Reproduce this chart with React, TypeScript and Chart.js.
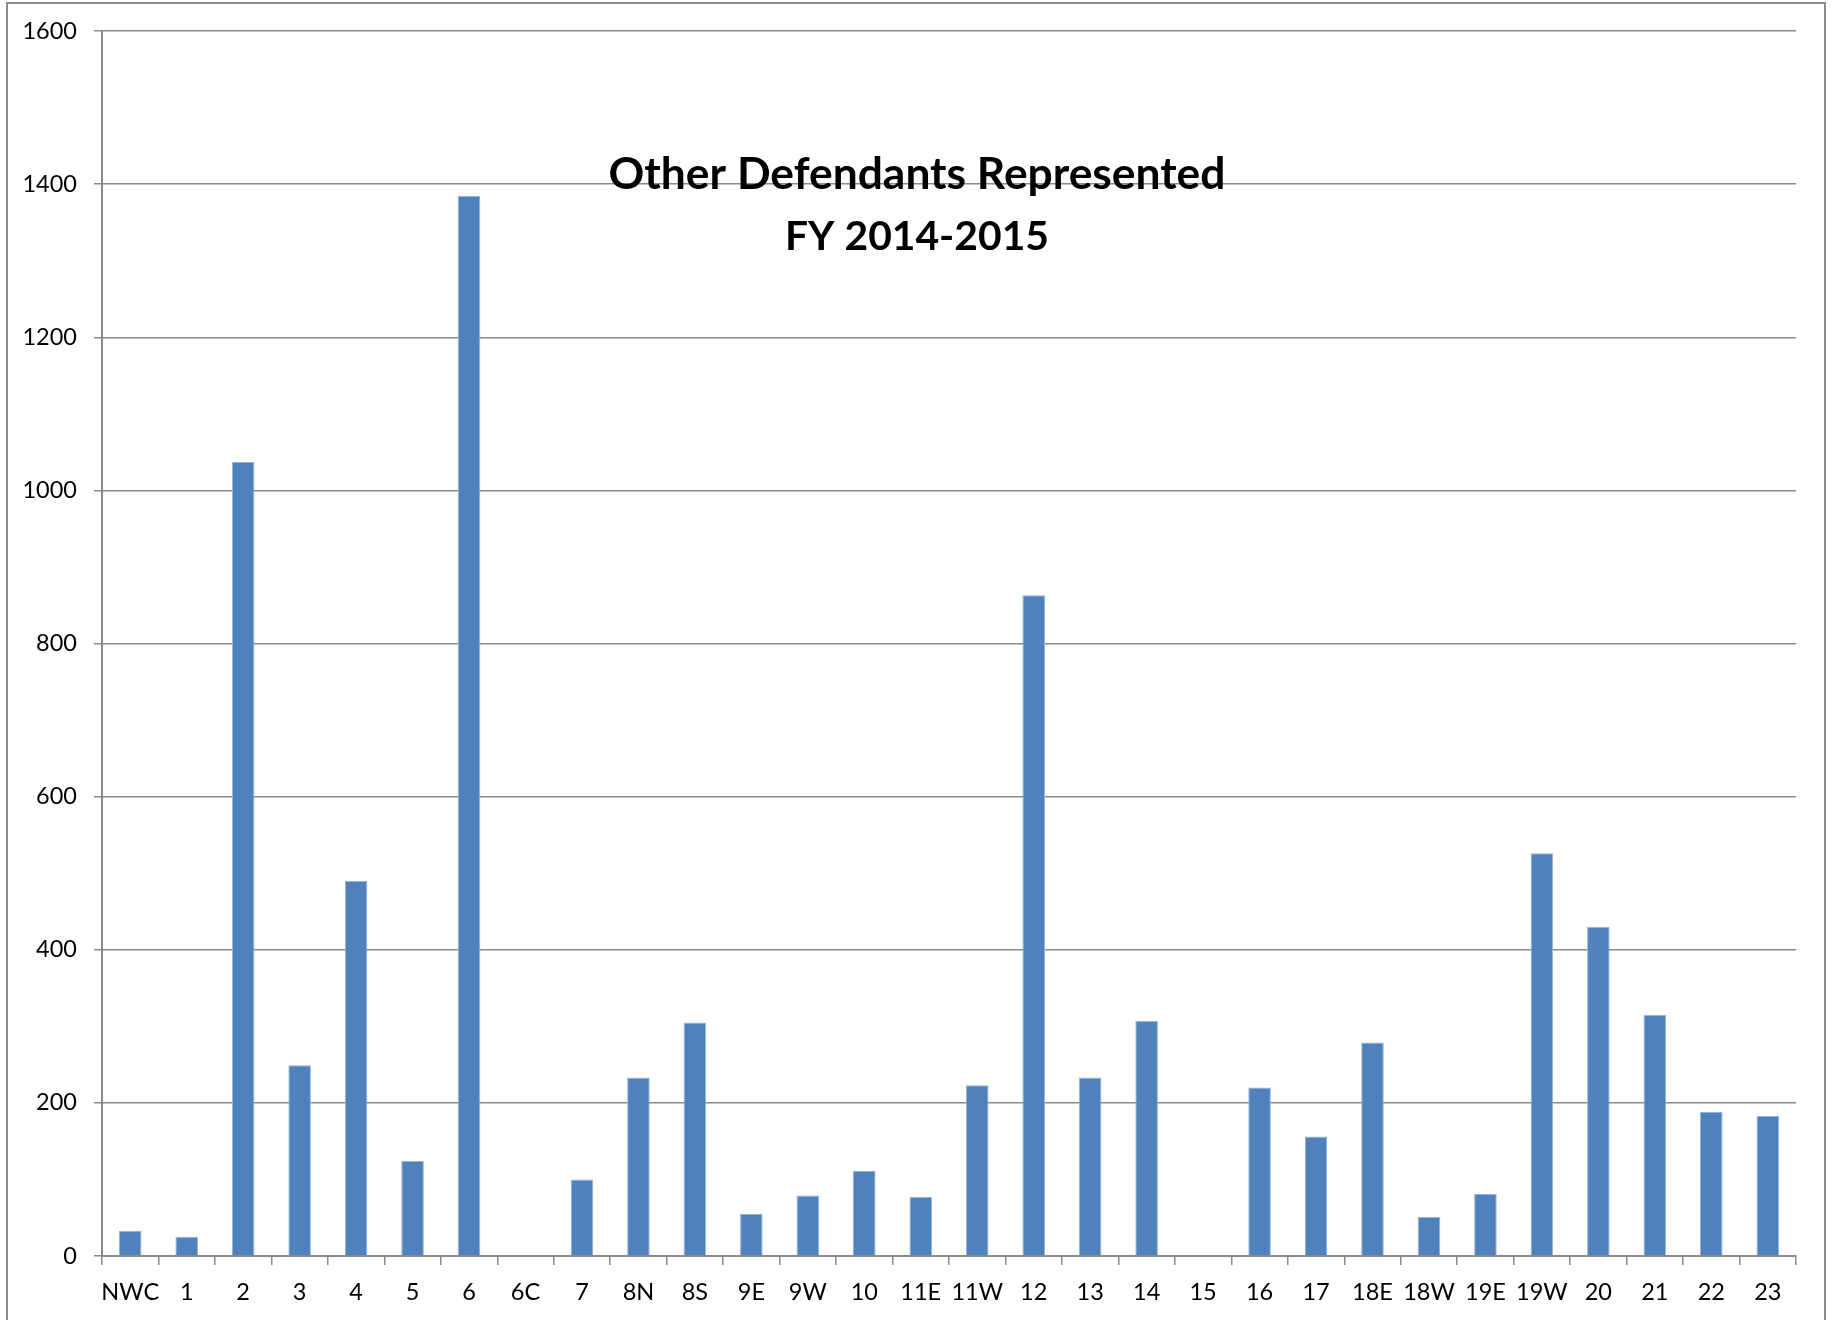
import React, { useEffect, useRef } from "react";
import { Chart, registerables } from "chart.js";

Chart.register(...registerables);

const categories = [
  "NWC", "1", "2", "3", "4", "5", "6", "6C", "7", "8N",
  "8S", "9E", "9W", "10", "11E", "11W", "12", "13", "14", "15",
  "16", "17", "18E", "18W", "19E", "19W", "20", "21", "22", "23",
];

const values = [
  33, 25, 1037, 249, 490, 124, 1385, 0, 100, 233,
  305, 55, 79, 111, 77, 223, 863, 233, 307, 0,
  220, 156, 279, 51, 81, 526, 430, 315, 188, 183,
];

const titleLines = ["Other Defendants Represented", "FY 2014-2015"];

const yMin = 0;
const yMax = 1600;
const yStep = 200;

const GRID = "#8a8a8a";
const FONT = "Lato";

const framePlugin = {
  id: "frame",
  beforeDraw(chart: any) {
    const ctx = chart.ctx;
    ctx.save();
    ctx.fillStyle = "#ffffff";
    ctx.fillRect(0, 0, chart.width, chart.height);
    ctx.strokeStyle = "#8c8c8c";
    ctx.lineWidth = 2;
    ctx.strokeRect(7, 3, 1818, 1340);
    ctx.restore();
  },
  afterDraw(chart: any) {
    const ctx = chart.ctx;
    ctx.save();
    ctx.fillStyle = "#000000";
    ctx.textAlign = "center";
    ctx.textBaseline = "alphabetic";
    const cx = 917;
    ctx.font = `bold 100px ${FONT}`;
    const w1 = ctx.measureText(titleLines[0]).width;
    ctx.font = `bold ${(100 * 617) / w1}px ${FONT}`;
    ctx.fillText(titleLines[0], cx, 189);
    ctx.font = `bold 100px ${FONT}`;
    const w2 = ctx.measureText(titleLines[1]).width;
    ctx.font = `bold ${(100 * 264) / w2}px ${FONT}`;
    ctx.fillText(titleLines[1], cx, 250);
    ctx.restore();
  },
};

export default function App() {
  const ref = useRef<HTMLCanvasElement>(null);

  useEffect(() => {
    if (!ref.current) return;
    const chart = new Chart(ref.current, {
      type: "bar",
      data: {
        labels: categories,
        datasets: [
          {
            data: values,
            backgroundColor: "#4f81bd",
            borderColor: "#95b3d7",
            borderWidth: { top: 1, left: 1, right: 1, bottom: 0 },
            borderSkipped: "bottom",
            categoryPercentage: 1,
            barPercentage: 0.4,
          },
        ],
      },
      options: {
        responsive: false,
        animation: false,
        layout: { padding: { left: 0, top: 29, right: 38, bottom: 0 } },
        plugins: {
          legend: { display: false },
          title: { display: false },
          tooltip: { enabled: false },
        },
        scales: {
          x: {
            grid: {
              display: true,
              drawOnChartArea: false,
              drawTicks: true,
              tickLength: 9,
              color: GRID,
              lineWidth: 1.5,
              offset: true,
            },
            border: { display: true, color: GRID, width: 2 },
            ticks: {
              color: "#000000",
              font: { family: FONT, size: 23.5 },
              padding: 13,
              maxRotation: 0,
              autoSkip: false,
            },
            afterFit(scale: any) {
              scale.height = 64;
            },
          },
          y: {
            min: yMin,
            max: yMax,
            ticks: {
              stepSize: yStep,
              color: "#000000",
              font: { family: FONT, size: 23.5 },
              padding: 17,
              callback: (v: any) => String(v),
            },
            grid: {
              color: GRID,
              lineWidth: 1.5,
              tickLength: 8,
              drawTicks: true,
            },
            border: { display: true, color: GRID, width: 2 },
            afterFit(scale: any) {
              scale.width = 102;
            },
          },
        },
      },
      plugins: [framePlugin],
    });
    return () => chart.destroy();
  }, []);

  return (
    <div style={{ position: "absolute", left: 0, top: 0, width: 1834, height: 1320 }}>
      <canvas ref={ref} width={1834} height={1320} style={{ display: "block" }} />
    </div>
  );
}
